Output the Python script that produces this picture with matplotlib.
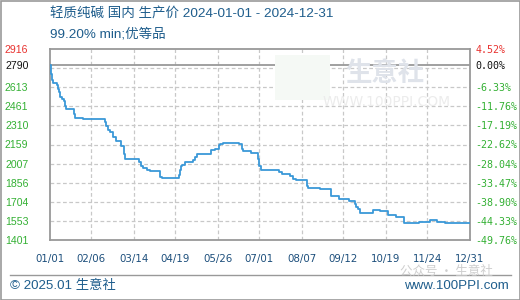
import matplotlib
matplotlib.use("Agg")
import matplotlib.pyplot as plt
import pandas as pd
from matplotlib.lines import Line2D
from matplotlib.patches import Rectangle

# ---- data ----
change_dates = ["2024-01-01", "2024-01-02", "2024-01-03", "2024-01-04", "2024-01-07", "2024-01-08",
                "2024-01-09", "2024-01-10", "2024-01-11", "2024-01-13", "2024-01-14", "2024-01-15",
                "2024-01-22", "2024-01-23", "2024-01-30", "2024-02-18", "2024-02-19", "2024-02-20",
                "2024-02-22", "2024-02-25", "2024-02-27", "2024-03-03", "2024-03-05", "2024-03-06",
                "2024-03-18", "2024-03-20", "2024-03-22", "2024-03-25", "2024-03-28", "2024-04-06",
                "2024-04-07", "2024-04-22", "2024-04-23", "2024-04-24", "2024-04-25", "2024-04-27",
                "2024-05-04", "2024-05-06", "2024-05-08", "2024-05-20", "2024-05-23", "2024-05-27",
                "2024-05-28", "2024-05-30", "2024-06-13", "2024-06-16", "2024-06-17", "2024-06-24",
                "2024-06-30", "2024-07-01", "2024-07-02", "2024-07-18", "2024-07-21", "2024-07-28",
                "2024-07-30", "2024-08-02", "2024-08-11", "2024-08-12", "2024-08-23", "2024-09-01",
                "2024-09-08", "2024-09-17", "2024-09-22", "2024-09-23", "2024-09-25", "2024-09-26",
                "2024-10-08", "2024-10-14", "2024-10-21", "2024-10-28", "2024-11-04", "2024-11-17",
                "2024-11-26", "2024-12-02", "2024-12-09", "2024-12-31"]
prices = [2790, 2720, 2670, 2645, 2627, 2601,
          2574, 2535, 2522, 2500, 2461, 2437,
          2397, 2371, 2360, 2336, 2302, 2270,
          2257, 2217, 2183, 2144, 2086, 2040,
          2020, 1990, 1971, 1960, 1950, 1900,
          1895, 1914, 1953, 1987, 1998, 2022,
          2038, 2058, 2085, 2112, 2122, 2157,
          2165, 2170, 2160, 2125, 2104, 2088,
          2046, 1990, 1953, 1940, 1922, 1906,
          1887, 1874, 1826, 1816, 1808, 1747,
          1729, 1708, 1689, 1662, 1649, 1615,
          1641, 1633, 1602, 1580, 1536, 1546,
          1557, 1546, 1538, 1535]

x_tick_dates = ["2024-01-01", "2024-02-06", "2024-03-14", "2024-04-19", "2024-05-26", "2024-07-01",
                "2024-08-07", "2024-09-12", "2024-10-19", "2024-11-24", "2024-12-31"]
x_tick_labels = ["01/01", "02/06", "03/14", "04/19", "05/26", "07/01",
                 "08/07", "09/12", "10/19", "11/24", "12/31"]
y_min, y_max, y_step = 1401, 2916, 151.5
base_price = 2790
left_labels = ["2916", "2790", "2613", "2461", "2310", "2159", "2007", "1856", "1704", "1553", "1401"]
right_labels = ["4.52%", "0.00%", "-6.33%", "-11.76%", "-17.19%", "-22.62%", "-28.04%",
                "-33.47%", "-38.90%", "-44.33%", "-49.76%"]

title_line1 = "轻质纯碱 国内 生产价 2024-01-01 - 2024-12-31"
title_line2 = "99.20% min;优等品"

# ---- figure ----
W, H = 520, 300
fig = plt.figure(figsize=(W / 100, H / 100), dpi=100)
fig.patch.set_facecolor("white")
ax = fig.add_axes([50 / W, 60 / H, 420 / W, 191 / H])

dates = pd.to_datetime(change_dates)
x0 = pd.Timestamp(x_tick_dates[0])
x1 = pd.Timestamp(x_tick_dates[-1])

grid_vals = [y_min + k * y_step for k in range(1, 10)]
for g in grid_vals:
    ax.axhline(g, color="#c8c8c8", lw=0.9, ls=(0, (3, 2)), zorder=1)
for d in pd.to_datetime(x_tick_dates[1:-1]):
    ax.axvline(d, color="#c8c8c8", lw=0.9, ls=(0, (3, 2)), zorder=1)
ax.axhline(base_price, color="#999999", lw=1.3, zorder=2)

ax.plot(dates, prices, drawstyle="steps-post", color="#3a98d8", lw=1.3, zorder=3)

ax.set_xlim(x0, x1)
ax.set_ylim(y_min, y_max)

for s in ax.spines.values():
    s.set_color("#999999")
    s.set_linewidth(1.3)

ax.set_xticks(pd.to_datetime(x_tick_dates))
ax.set_xticklabels(x_tick_labels)
ax.tick_params(axis="x", length=0, pad=10, labelsize=7.4, labelcolor="#1d4f7c")
for t in ax.get_xticklabels():
    t.set_family("DejaVu Sans")

tick_pos = [y_max, base_price] + [y_min + k * y_step for k in range(8, -1, -1)]
ax.set_yticks(tick_pos)
ax.set_yticklabels(left_labels)
ax.tick_params(axis="y", length=0, pad=15.5, labelsize=7.6)
left_cols = ["#e8322f", "#111111"] + ["#33b033"] * 9
for t, c in zip(ax.get_yticklabels(), left_cols):
    t.set_color(c)
    t.set_family("Liberation Sans")

ax2 = ax.twinx()
ax2.set_ylim(y_min, y_max)
ax2.set_yticks(tick_pos)
ax2.set_yticklabels(right_labels)
ax2.tick_params(axis="y", length=0, pad=4, labelsize=7.2)
for s in ax2.spines.values():
    s.set_visible(False)
for t, c in zip(ax2.get_yticklabels(), left_cols):
    t.set_color(c)
    t.set_family("DejaVu Sans Mono")

# watermark
fig.patches.append(Rectangle((275 / W, 1 - 100 / H), 55 / W, 45 / H, transform=fig.transFigure,
                             facecolor="#f5f9f5", edgecolor="none", zorder=0))
fig.text(385 / W, 1 - 73 / H, "生意社", fontsize=19, color="#dfe3ea",
         family=["Noto Sans CJK SC"], ha="center", va="center", zorder=0, fontweight="bold")
fig.text(387 / W, 1 - 102 / H, "WWW.100PPI.COM", fontsize=10, color="#ececec",
         family="DejaVu Sans", ha="center", va="center", zorder=0)

# titles
title_fam = ["Liberation Sans", "Noto Sans CJK SC"]
fig.text(50 / W, 1 - 14 / H, title_line1, fontsize=9.7, color="#1e5d8c",
         family=title_fam, ha="left", va="center")
fig.text(50 / W, 1 - 34 / H, title_line2, fontsize=9.7, color="#1e5d8c",
         family=title_fam, ha="left", va="center")

# footer
fig.add_artist(Line2D([10 / W, 511 / W], [1 - 275 / H, 1 - 275 / H],
                      transform=fig.transFigure, color="#999999", lw=1.0))
fig.text(10 / W, 1 - 286 / H, "© 2025.01 生意社", fontsize=9.6, color="#1e5d8c",
         family=["Liberation Sans", "Noto Sans CJK SC"], ha="left", va="center")
fig.text(509 / W, 1 - 286 / H, "www.100PPI.com", fontsize=9.6, color="#1e5d8c",
         family="Liberation Sans", ha="right", va="center")
fig.text(400 / W, 1 - 271 / H, "公众号 · 生意社", fontsize=9.0, color="#c9c9c9",
         family=["Noto Sans CJK SC", "DejaVu Sans"], ha="left", va="center", alpha=0.9)

# outer border
fig.patches.append(Rectangle((0.5 / W, 0.5 / H), (W - 1) / W, (H - 1) / H, transform=fig.transFigure,
                             facecolor="none", edgecolor="#999999", lw=1.2))

fig.savefig("out.png", dpi=100)
